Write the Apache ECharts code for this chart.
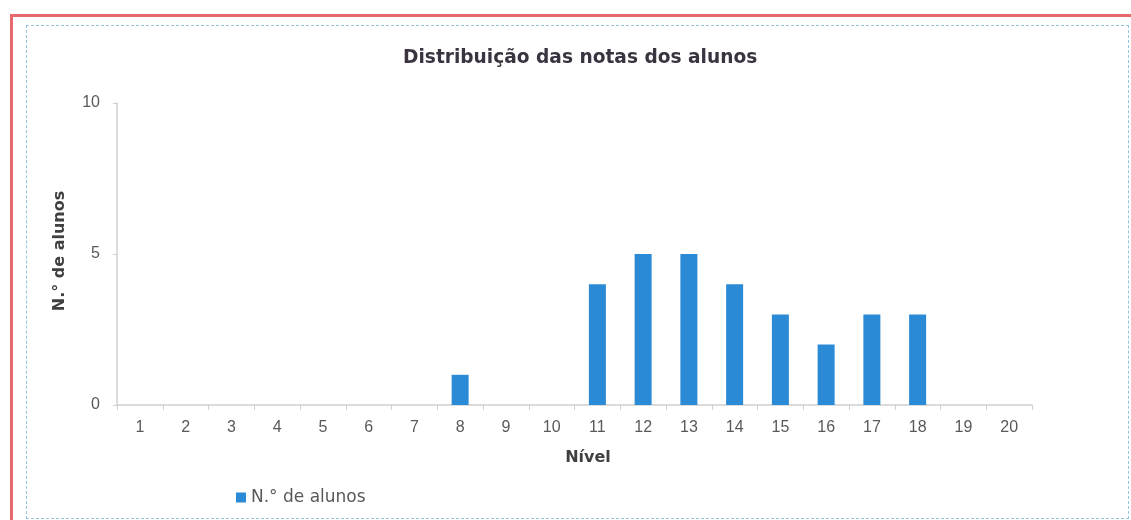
<!DOCTYPE html>
<html>
<head>
<meta charset="utf-8">
<script src="https://cdn.jsdelivr.net/npm/echarts@6/dist/echarts.min.js"></script>
<style>
  html, body { margin: 0; padding: 0; background: #ffffff; overflow: hidden; }
  #frame-outer {
    position: absolute; left: 10px; top: 14px; width: 1140px; height: 530px;
    border-left: 3px solid #e8696b; border-top: 3px solid #e8696b;
  }
  #frame-inner {
    position: absolute; left: 26px; top: 25px; width: 1101px; height: 492px;
    border: 1.5px dashed #93c4db;
  }
  #chart { position: absolute; left: 0; top: 0; width: 1131px; height: 520px; }
</style>
</head>
<body>
<div id="frame-outer"></div>
<div id="frame-inner"></div>
<div id="chart"></div>
<script>
// Grade levels 1–20 and how many students got each one
const levels = ['1','2','3','4','5','6','7','8','9','10','11','12','13','14','15','16','17','18','19','20'];
const studentCounts = [0, 0, 0, 0, 0, 0, 0, 1, 0, 0, 4, 5, 5, 4, 3, 2, 3, 3, 0, 0];
const yTicks = [0, 5, 10];

const seriesName = 'N.° de alunos';
const boldFont = '"DejaVu Sans", Arial, sans-serif';
const narrowFont = '"Liberation Sans Narrow", "Arial Narrow", "Liberation Sans", Arial, sans-serif';

const chart = echarts.init(document.getElementById('chart'), null, { renderer: 'canvas' });
chart.setOption({
  backgroundColor: 'transparent',
  animation: false,
  title: {
    text: 'Distribuição das notas dos alunos',
    left: 398,
    top: 44,
    textStyle: { fontFamily: boldFont, fontSize: 18.6, fontWeight: 'bold', color: '#3a3340' }
  },
  legend: {
    data: [seriesName],
    left: 231,
    top: 484,
    itemWidth: 10,
    itemHeight: 10,
    itemGap: 4,
    icon: 'rect',
    textStyle: { fontFamily: '"DejaVu Sans", Arial, sans-serif', fontSize: 17, color: '#595959' }
  },
  grid: { left: 117, right: 99, top: 103, bottom: 115, containLabel: false },
  xAxis: {
    type: 'category',
    data: levels,
    name: 'Nível',
    nameLocation: 'middle',
    nameGap: 45,
    nameTextStyle: { fontFamily: boldFont, fontSize: 16, fontWeight: 'bold', color: '#404040', padding: [0, 0, 0, 27] },
    axisLine: { lineStyle: { color: '#d0d0d0', width: 1.5 } },
    axisTick: { show: true, alignWithLabel: false, length: 5, lineStyle: { color: '#d0d0d0' } },
    axisLabel: { fontFamily: narrowFont, fontSize: 16, color: '#595959', margin: 15 }
  },
  yAxis: {
    type: 'value',
    min: yTicks[0],
    max: yTicks[yTicks.length - 1],
    interval: 5,
    name: seriesName,
    nameLocation: 'middle',
    nameGap: 49,
    nameRotate: 90,
    nameTextStyle: { fontFamily: boldFont, fontSize: 16, fontWeight: 'bold', color: '#404040', padding: [0, 0, 0, 6] },
    axisLine: { show: true, lineStyle: { color: '#d0d0d0', width: 1.5 } },
    axisTick: { show: true, length: 4, lineStyle: { color: '#d0d0d0' } },
    splitLine: { show: false },
    axisLabel: { fontFamily: narrowFont, fontSize: 16, color: '#595959', margin: 17 }
  },
  series: [{
    name: seriesName,
    type: 'bar',
    data: studentCounts,
    barWidth: 17,
    itemStyle: { color: '#2a8ad5' }
  }]
});
</script>
</body>
</html>
